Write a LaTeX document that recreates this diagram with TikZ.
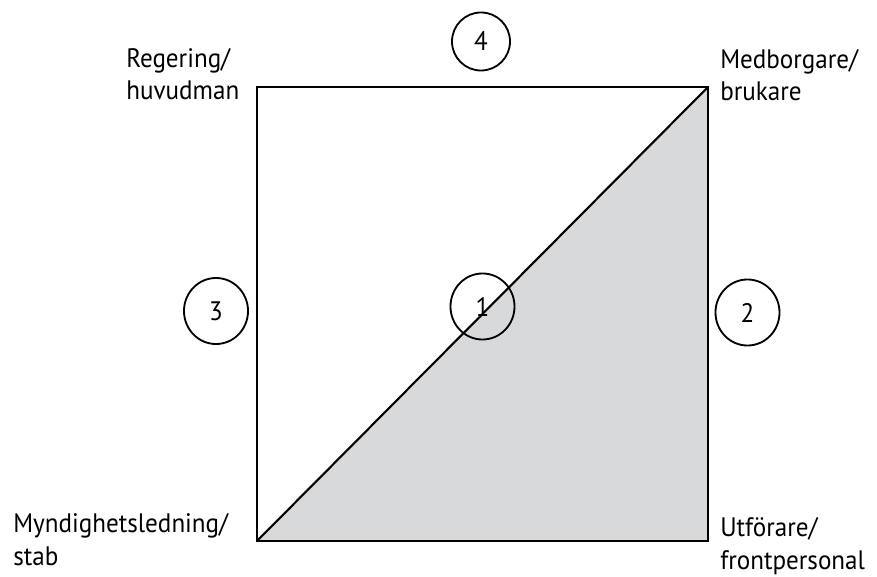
\documentclass[tikz,border=0pt]{standalone}
\usepackage{fontspec}
\setmainfont{PT Sans}[FakeStretch=0.94]
\usetikzlibrary{shapes.geometric}
\begin{document}
\begin{tikzpicture}[x=0.025cm, y=-0.025cm]
  \definecolor{triangel}{RGB}{216,217,219}
  \tikzstyle{lbl}=[font=\fontsize{19}{23}\selectfont, align=left, inner sep=0pt]
  \tikzstyle{num}=[draw, ellipse, line width=1.3pt, minimum width=1.6cm, minimum height=1.65cm, inner sep=0pt, font=\fontsize{19}{22}\selectfont]
  \tikzstyle{kant}=[line width=1.5pt, line join=miter]

  \useasboundingbox (0,0) rectangle (877,577);

  % Hornen i kvadraten
  \coordinate (tl) at (257,87);
  \coordinate (tr) at (708,87);
  \coordinate (bl) at (257,541);
  \coordinate (br) at (708,541);

  % Grå triangel under diagonalen
  \fill[triangel] (bl) -- (tr) -- (br) -- cycle;
  \draw[kant] (tl) -- (tr) -- (br) -- (bl) -- cycle;
  \draw[kant] (bl) -- (tr);

  % Aktörerna i hornen (base = sista radens baslinje)
  \node[lbl, anchor=base west] (reg) at (126,100) {Regering/\\huvudman};
  \node[lbl, anchor=base west] (med) at (720,101) {Medborgare/\\brukare};
  \node[lbl, anchor=base west] (myn) at (13,565) {Myndighetsledning/\\stab};
  \node[lbl, anchor=base west] (utf) at (720,569) {Utförare/\\frontpersonal};

  % Numrerade relationer
  \node[num, minimum width=1.45cm, minimum height=1.45cm] (c4) at (481,41.5) {4};
  \node[num] (c3) at (216,311) {3};
  \node[num] (c1) at (482.5,306.5) {1};
  \node[num] (c2) at (747.5,312.5) {2};
\end{tikzpicture}
\end{document}
